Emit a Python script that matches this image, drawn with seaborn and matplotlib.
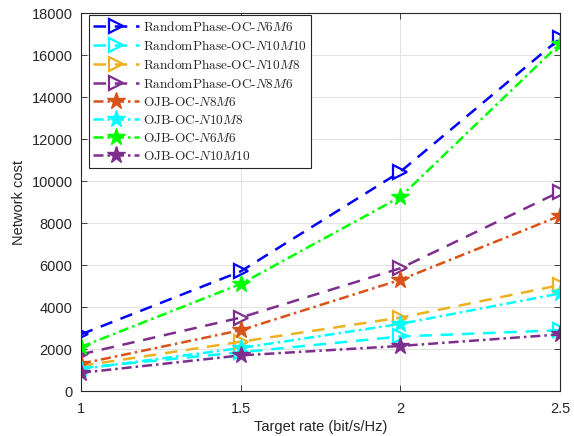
import matplotlib
matplotlib.use("Agg")
import matplotlib.pyplot as plt
import seaborn as sns
import pandas as pd

sns.set_theme(style="whitegrid")
plt.rcParams["font.family"] = ["Liberation Sans", "DejaVu Sans"]
plt.rcParams["mathtext.fontset"] = "cm"
plt.rcParams["axes.unicode_minus"] = False

rates = [1, 1.5, 2, 2.5]

rp_n6m6 = [2700, 5700, 10450, 16800]
rp_n10m10 = [1100, 1850, 2600, 2900]
rp_n10m8 = [1200, 2350, 3500, 5050]
rp_n8m6 = [1750, 3500, 5850, 9500]
ojb_n8m6 = [1300, 2900, 5300, 8350]
ojb_n10m8 = [1050, 2050, 3200, 4650]
ojb_n6m6 = [2100, 5100, 9250, 16550]
ojb_n10m10 = [870, 1700, 2150, 2700]

labels = [
    r"RandomPhase-OC-$N6M6$",
    r"RandomPhase-OC-$N10M10$",
    r"RandomPhase-OC-$N10M8$",
    r"RandomPhase-OC-$N8M6$",
    r"OJB-OC-$N8M6$",
    r"OJB-OC-$N10M8$",
    r"OJB-OC-$N6M6$",
    r"OJB-OC-$N10M10$",
]
series = [rp_n6m6, rp_n10m10, rp_n10m8, rp_n8m6, ojb_n8m6, ojb_n10m8, ojb_n6m6, ojb_n10m10]
colors = ["#0000ff", "#00ffff", "#edb120", "#7e2f8e",
          "#d95319", "#00ffff", "#00ff00", "#7e2f8e"]

fig = plt.figure(figsize=(5.74, 4.36), dpi=100)
ax = fig.add_axes([0.141, 0.103, 0.835, 0.867])

for lab, vals, col in zip(labels, series, colors):
    df = pd.DataFrame({"rate": rates, "cost": vals})
    if lab.startswith("Random"):
        sns.lineplot(data=df, x="rate", y="cost", ax=ax, color=col,
                     linestyle=(0, (5, 3.5)), linewidth=1.8, marker=">",
                     markersize=10, markerfacecolor="none",
                     markeredgecolor=col, markeredgewidth=1.6, label=lab)
    else:
        sns.lineplot(data=df, x="rate", y="cost", ax=ax, color=col,
                     linestyle=(0, (4, 1.6, 1, 1.6)), linewidth=1.8, marker="*",
                     markersize=13, markerfacecolor=col,
                     markeredgecolor=col, markeredgewidth=1.0, label=lab)

ax.set_xlim(1, 2.5)
ax.set_ylim(0, 18000)
ax.set_xticks([1, 1.5, 2, 2.5])
ax.set_xticklabels(["1", "1.5", "2", "2.5"])
ax.set_yticks(range(0, 18001, 2000))
ax.set_xlabel("Target rate (bit/s/Hz)", fontsize=10.5, color="#262626", labelpad=3)
ax.set_ylabel("Network cost", fontsize=10.5, color="#262626", labelpad=4)

ax.set_facecolor("white")
ax.grid(True, color="#e3e3e3", linewidth=0.8)
for s in ax.spines.values():
    s.set_color("#262626")
    s.set_linewidth(0.8)
ax.tick_params(axis="both", direction="in", length=4, width=0.6, color="#262626",
               labelsize=10.5, labelcolor="#262626", top=True, right=True,
               bottom=True, left=True)
ax.tick_params(axis="x", pad=8)
ax.tick_params(axis="y", pad=6)

leg = ax.legend(loc="upper left", bbox_to_anchor=(0.016, 0.995), borderaxespad=0,
                frameon=True, fancybox=False, edgecolor="#262626", framealpha=1,
                handlelength=3.4, borderpad=0.35, labelspacing=0.38,
                handletextpad=0.3, prop={"family": "cmr10", "size": 9.6})
leg.get_frame().set_linewidth(0.8)

fig.savefig("out.png", dpi=100)
